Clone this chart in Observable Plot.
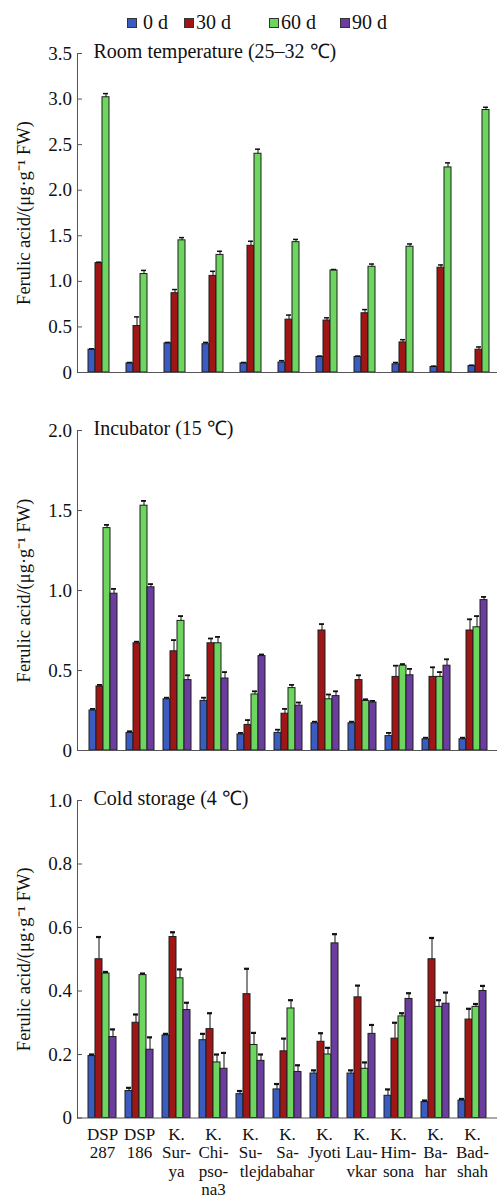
<!DOCTYPE html>
<html>
<head>
<meta charset="utf-8">
<script src="https://cdn.jsdelivr.net/npm/d3@7"></script>
<script src="https://cdn.jsdelivr.net/npm/@observablehq/plot@0.6"></script>
<style>
  html, body { margin: 0; padding: 0; background: #fff; }
  body { width: 499px; font-family: "Liberation Serif", serif; color: #111; }
  #legend { position: relative; height: 36px; width: 499px; }
  #legend .sw { position: absolute; top: 18px; width: 8px; height: 8px; border: 1px solid #333; }
  #legend .lb { position: absolute; top: 12px; font-size: 20px; line-height: 20px; white-space: nowrap; }
  svg { display: block; }
</style>
</head>
<body>
<div id="legend"></div>
<div id="charts"></div>
<script>
// ---------- data ----------
const categories = ["DSP 287","DSP 186","K. Surya","K. Chipsona3","K. Sutlej","K. Sadabahar","K. Jyoti","K. Lauvkar","K. Himsona","K. Bahar","K. Badshah"];
const tickLabels = ["DSP\n287","DSP\n186","K.\nSur-\nya","K.\nChi-\npso-\nna3","K.\nSu-\ntlej","K.\nSa-\ndabahar","K.\nJyoti","K.\nLau-\nvkar","K.\nHim-\nsona","K.\nBa-\nhar","K.\nBad-\nshah"];
const seriesNames = ["0 d","30 d","60 d","90 d"];
const seriesColors = ["#3a5bbf","#9e1616","#6cd65e","#6b3d9f"];
const yLabel = "Ferulic acid/(μg·g⁻¹ FW)";

// Room temperature (25–32 ℃)
const room0  = [0.25,0.10,0.32,0.31,0.10,0.11,0.17,0.17,0.09,0.06,0.07];
const room30 = [1.20,0.51,0.87,1.06,1.39,0.58,0.57,0.65,0.33,1.15,0.25];
const room60 = [3.02,1.08,1.45,1.29,2.40,1.43,1.12,1.16,1.38,2.25,2.88];
const roomErr0  = [0.01,0.01,0.01,0.02,0.01,0.02,0.01,0.01,0.02,0.01,0.01];
const roomErr30 = [0.01,0.10,0.04,0.05,0.05,0.05,0.03,0.04,0.03,0.03,0.03];
const roomErr60 = [0.04,0.04,0.03,0.04,0.05,0.03,0.01,0.03,0.03,0.05,0.03];

// Incubator (15 ℃)
const inc0  = [0.25,0.11,0.32,0.31,0.10,0.11,0.17,0.17,0.09,0.07,0.07];
const inc30 = [0.40,0.67,0.62,0.67,0.16,0.23,0.75,0.44,0.46,0.46,0.75];
const inc60 = [1.39,1.53,0.81,0.67,0.35,0.39,0.32,0.31,0.53,0.46,0.77];
const inc90 = [0.98,1.02,0.44,0.45,0.59,0.28,0.34,0.30,0.47,0.53,0.94];
const incErr0  = [0.01,0.01,0.01,0.02,0.01,0.02,0.01,0.01,0.02,0.01,0.01];
const incErr30 = [0.01,0.01,0.07,0.03,0.03,0.03,0.04,0.03,0.07,0.06,0.07];
const incErr60 = [0.02,0.03,0.03,0.04,0.02,0.02,0.03,0.01,0.01,0.03,0.07];
const incErr90 = [0.03,0.02,0.03,0.04,0.01,0.02,0.03,0.01,0.04,0.04,0.02];

// Cold storage (4 ℃)
const cold0  = [0.195,0.085,0.26,0.245,0.075,0.09,0.14,0.14,0.07,0.05,0.055];
const cold30 = [0.50,0.30,0.57,0.28,0.39,0.21,0.24,0.38,0.25,0.50,0.31];
const cold60 = [0.455,0.45,0.44,0.175,0.23,0.345,0.20,0.155,0.32,0.35,0.35];
const cold90 = [0.255,0.215,0.34,0.155,0.18,0.145,0.55,0.265,0.375,0.36,0.40];
const coldErr0  = [0.005,0.01,0.005,0.02,0.01,0.017,0.01,0.01,0.02,0.005,0.005];
const coldErr30 = [0.07,0.026,0.015,0.05,0.08,0.04,0.027,0.037,0.05,0.067,0.034];
const coldErr60 = [0.005,0.005,0.028,0.025,0.038,0.026,0.021,0.02,0.01,0.021,0.009];
const coldErr90 = [0.024,0.039,0.023,0.05,0.02,0.021,0.029,0.028,0.018,0.035,0.016];

const panelTitles = ["Room temperature (25–32 ℃)","Incubator (15 ℃)","Cold storage (4 ℃)"];
const yTicks1 = [0,0.5,1.0,1.5,2.0,2.5,3.0,3.5];
const yTicks2 = [0,0.5,1.0,1.5,2.0];
const yTicks3 = [0,0.2,0.4,0.6,0.8,1.0];

// ---------- build tables ----------
function rows(valuesList, errList) {
  const out = [];
  valuesList.forEach((vals, s) => {
    if (!vals) return;
    vals.forEach((v, i) => out.push({cat: categories[i], series: s, value: v, err: errList[s][i]}));
  });
  return out;
}
const roomData = rows([room0, room30, room60, null], [roomErr0, roomErr30, roomErr60, null]);
const incData  = rows([inc0, inc30, inc60, inc90], [incErr0, incErr30, incErr60, incErr90]);
const coldData = rows([cold0, cold30, cold60, cold90], [coldErr0, coldErr30, coldErr60, coldErr90]);

// ---------- legend ----------
const legend = document.getElementById("legend");
const swX = [127, 184, 269, 340];
const lbX = [143, 196, 281, 352];
seriesNames.forEach((name, i) => {
  const sw = document.createElement("div");
  sw.className = "sw"; sw.style.left = swX[i] + "px"; sw.style.background = seriesColors[i];
  legend.appendChild(sw);
  const lb = document.createElement("div");
  lb.className = "lb"; lb.style.left = lbX[i] + "px"; lb.textContent = name;
  legend.appendChild(lb);
});

// ---------- panels ----------
const labelMap = new Map(categories.map((c, i) => [c, tickLabels[i]]));
const W = 7; // bar slot width in px

function panel({data, title, yMax, yTicks, height, marginTop, marginBottom, xEnd, padInner, showX, capWidth}) {
  const marks = [];
  for (let s = 0; s < 4; s++) {
    const d = data.filter(r => r.series === s);
    if (!d.length) continue;
    marks.push(Plot.barY(d, {
      x: "cat", y1: 0, y2: "value", fill: seriesColors[s], stroke: "#1e1e1e", strokeWidth: 1,
      insetLeft: s * W, insetRight: (3 - s) * W
    }));
    marks.push(Plot.ruleX(d, {
      x: "cat", y1: "value", y2: r => r.value + r.err, stroke: "#111", strokeWidth: 1,
      dx: (s - 1.5) * W
    }));
    marks.push(Plot.tickY(d, {
      x: "cat", y: r => r.value + r.err, stroke: "#111", strokeWidth: capWidth,
      insetLeft: s * W + 1, insetRight: (3 - s) * W + 1
    }));
  }
  marks.push(Plot.ruleY([0], {stroke: "#555", strokeWidth: 1}));
  marks.push(Plot.frame({anchor: "left", stroke: "#555", strokeWidth: 1}));
  marks.push(Plot.axisY({ticks: yTicks, tickSize: 5, dx: 5, tickFormat: () => "", label: null, stroke: "#555"}));
  marks.push(Plot.axisY({ticks: yTicks, tickSize: 0, tickPadding: 5.5, label: null, fontSize: 19,
    tickFormat: d => d === 0 ? "0" : d.toFixed(1), fill: "#111"}));
  marks.push(Plot.text([title], {frameAnchor: "top-left", dx: 16, dy: -2, textAnchor: "start", lineAnchor: "middle", fontSize: 20, fill: "#111"}));
  marks.push(Plot.text([yLabel], {frameAnchor: "left", rotate: -90, dx: -53, textAnchor: "middle", lineAnchor: "middle", fontSize: 18.5, fill: "#111"}));
  if (showX) {
    marks.push(Plot.axisX({tickSize: 0, tickPadding: 9, fontSize: 17, lineHeight: 1.08, fill: "#111",
      tickFormat: d => labelMap.get(d), label: null}));
  }
  return Plot.plot({
    width: 499, height, marginLeft: 77, marginRight: 2, marginTop, marginBottom,
    style: {fontFamily: "Liberation Serif", fontSize: "19px", background: "#fff", color: "#111"},
    x: {domain: categories, range: [87, xEnd], paddingInner: padInner, paddingOuter: 0, axis: null, label: null},
    y: {domain: [0, yMax], axis: null, label: null},
    marks
  });
}

const charts = document.getElementById("charts");
charts.appendChild(panel({data: roomData, title: panelTitles[0], yMax: 3.5, yTicks: yTicks1,
  height: 354, marginTop: 17, marginBottom: 18, xEnd: 496, padInner: 0.265, showX: false, capWidth: 1.5}));
charts.appendChild(panel({data: incData, title: panelTitles[1], yMax: 2.0, yTicks: yTicks2,
  height: 380, marginTop: 40, marginBottom: 20, xEnd: 489, padInner: 0.251, showX: false, capWidth: 1.8}));
charts.appendChild(panel({data: coldData, title: panelTitles[2], yMax: 1.0, yTicks: yTicks3,
  height: 429, marginTop: 30, marginBottom: 81.5, xEnd: 486, padInner: 0.245, showX: true, capWidth: 2.2}));
</script>
</body>
</html>
